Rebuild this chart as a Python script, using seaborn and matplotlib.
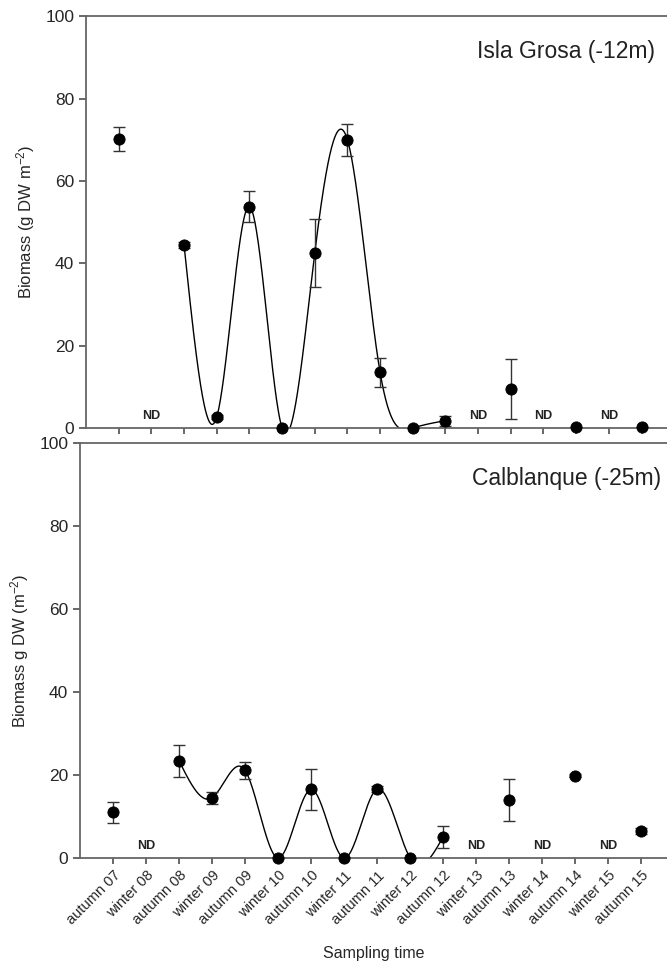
import numpy as np
import pandas as pd
import matplotlib
matplotlib.use("Agg")
import matplotlib.pyplot as plt
import seaborn as sns

nan = np.nan

seasons = ["autumn 07", "winter 08", "autumn 08", "winter 09", "autumn 09",
           "winter 10", "autumn 10", "winter 11", "autumn 11", "winter 12",
           "autumn 12", "winter 13", "autumn 13", "winter 14", "autumn 14",
           "winter 15", "autumn 15"]

grosa_mean = [70.3, nan, 44.4, 2.7, 53.8, 0.0, 42.5, 70.0, 13.5, 0.0,
              1.8, nan, 9.5, nan, 0.2, nan, 0.2]
grosa_err = [2.9, nan, 0.7, 0.5, 3.7, 0.0, 8.2, 3.8, 3.5, 0.0,
             1.2, nan, 7.3, nan, 0.0, nan, 0.0]

calb_mean = [11.0, nan, 23.4, 14.5, 21.1, 0.0, 16.5, 0.0, 16.6, 0.0,
             5.1, nan, 14.0, nan, 19.8, nan, 6.5]
calb_err = [2.6, nan, 3.8, 1.4, 2.0, 0.0, 5.0, 0.0, 0.7, 0.0,
            2.6, nan, 5.1, nan, 0.4, nan, 0.8]

# indices joined by the smooth curve (autumn 08 .. autumn 12)
curve_from, curve_to = 2, 10


def natural_spline(x, y, n=600):
    x = np.asarray(x, float)
    y = np.asarray(y, float)
    k = len(x)
    h = np.diff(x)
    A = np.zeros((k, k))
    b = np.zeros(k)
    A[0, 0] = A[-1, -1] = 1
    for i in range(1, k - 1):
        A[i, i - 1] = h[i - 1]
        A[i, i] = 2 * (h[i - 1] + h[i])
        A[i, i + 1] = h[i]
        b[i] = 6 * ((y[i + 1] - y[i]) / h[i] - (y[i] - y[i - 1]) / h[i - 1])
    M = np.linalg.solve(A, b)
    xs = np.linspace(x[0], x[-1], n)
    j = np.clip(np.searchsorted(x, xs) - 1, 0, k - 2)
    t0 = x[j + 1] - xs
    t1 = xs - x[j]
    hj = h[j]
    ys = (M[j] * t0 ** 3 + M[j + 1] * t1 ** 3) / (6 * hj) \
        + (y[j] / hj - M[j] * hj / 6) * t0 + (y[j + 1] / hj - M[j + 1] * hj / 6) * t1
    return xs, ys


def panel(ax, mean, err, titel, tx, ylab, labels_on):
    df = pd.DataFrame({"pos": np.arange(len(seasons)), "mean": mean, "err": err})
    seg = df.iloc[curve_from:curve_to + 1]
    xs, ys = natural_spline(seg["pos"], seg["mean"])
    sns.lineplot(x=xs, y=ys, ax=ax, color="black", lw=1.0, zorder=2)
    ok = df.dropna()
    eb = ok[ok["err"] > 0]
    ax.errorbar(eb["pos"], eb["mean"], yerr=eb["err"], fmt="none",
                ecolor="#333333", elinewidth=1.0, capsize=4.5, capthick=1.0, zorder=3)
    sns.scatterplot(data=ok, x="pos", y="mean", ax=ax, color="black",
                    edgecolor="black", s=65, zorder=4, clip_on=False)
    for p in df[df["mean"].isna()]["pos"]:
        ax.text(p, 3.0, "ND", ha="center", va="center", fontsize=9,
                fontweight="bold", color="#222222")
    ax.set_xlim(-1, 16.78)
    ax.set_ylim(0, 100)
    ax.set_yticks([0, 20, 40, 60, 80, 100])
    ax.set_xticks(range(len(seasons)))
    if labels_on:
        ax.set_xticklabels(seasons, rotation=45, ha="right", rotation_mode="anchor",
                           fontsize=10.5)
        ax.set_xlabel("Sampling time", fontsize=11.5, labelpad=13)
    else:
        ax.set_xticklabels([])
        ax.set_xlabel("")
    ax.set_ylabel(ylab, fontsize=12, labelpad=6)
    ax.tick_params(axis="y", labelsize=12.5, length=5, color="#555555")
    ax.tick_params(axis="x", length=4, color="#555555")
    ax.spines["right"].set_visible(False)
    for s in ["left", "bottom", "top"]:
        ax.spines[s].set_color("#666666")
        ax.spines[s].set_linewidth(1.3)
    ax.text(tx, 0.915, titel, transform=ax.transAxes, ha="right", va="center",
            fontsize=16.5, color="#222222")


sns.set_theme(style="ticks")
plt.rcParams["font.family"] = ["Liberation Sans", "DejaVu Sans"]
plt.rcParams["mathtext.default"] = "regular"

fig = plt.figure(figsize=(6.67, 9.64), dpi=100)
ax1 = fig.add_axes([0.129, 0.556, 0.871, 0.427])
ax2 = fig.add_axes([0.120, 0.110, 0.880, 0.4305])

panel(ax1, grosa_mean, grosa_err, "Isla Grosa (-12m)", 0.98,
      "Biomass (g DW m$^{-2}$)", False)
panel(ax2, calb_mean, calb_err, "Calblanque (-25m)", 0.99,
      "Biomass g DW (m$^{-2}$)", True)

fig.savefig("out.png", dpi=100)
